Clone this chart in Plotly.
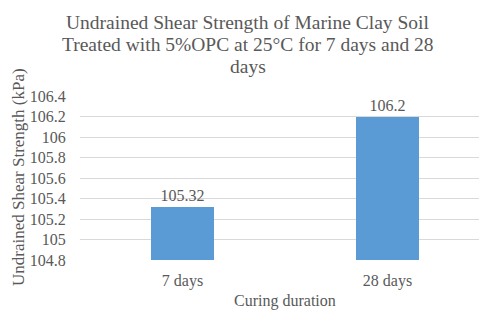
import plotly.graph_objects as go

categories = ["7 days", "28 days"]
strength = [105.32, 106.2]
y_ticks = [104.8, 105, 105.2, 105.4, 105.6, 105.8, 106, 106.2, 106.4]
y_tick_text = ["104.8", "105", "105.2", "105.4", "105.6", "105.8", "106", "106.2", "106.4"]
title_lines = [
    "Undrained Shear Strength of Marine Clay Soil",
    "Treated with 5%OPC at 25°C for 7 days and 28",
    "days",
]

FONT = "Liberation Serif"
GREY = "#595959"

W, H = 479, 311
L, R, T, B = 80, 0, 96, 51
pw = W - L - R
ph = H - T - B


def py(px):
    return 1 - (px - T) / ph


fig = go.Figure(go.Bar(
    x=categories, y=strength,
    marker=dict(color="#5B9BD5", line=dict(width=0)),
    width=0.31,
    text=[f"{v:g}" for v in strength],
    textposition="outside",
    textfont=dict(family=FONT, size=16, color=GREY),
    cliponaxis=False,
))

anns = []
for i, (line, cy) in enumerate(zip(title_lines, [22, 45, 66])):
    anns.append(dict(text=line, xref="paper", yref="paper",
                     x=(247.5 - L) / pw, y=py(cy), showarrow=False,
                     xanchor="center", yanchor="middle",
                     font=dict(family=FONT, size=19.5, color=GREY)))
anns += [
    dict(text="Undrained Shear Strength (kPa)", xref="paper", yref="paper",
         x=(18 - L) / pw, y=py(177), textangle=-90, showarrow=False,
         xanchor="center", yanchor="middle",
         font=dict(family=FONT, size=17, color=GREY)),
    dict(text="Curing duration", xref="paper", yref="paper",
         x=(285 - L) / pw, y=py(300.5), showarrow=False,
         xanchor="center", yanchor="middle",
         font=dict(family=FONT, size=16, color=GREY)),
]

fig.update_layout(
    width=W, height=H,
    margin=dict(l=L, r=R, t=T, b=B, pad=0),
    paper_bgcolor="white", plot_bgcolor="white",
    showlegend=False,
    font=dict(family=FONT, color=GREY),
    xaxis=dict(
        range=[-0.5, 1 + 91.5 / 205],
        showgrid=False, zeroline=False, showline=False,
        ticks="outside", ticklen=6, tickcolor="rgba(0,0,0,0)",
        tickfont=dict(family=FONT, size=16, color=GREY),
    ),
    yaxis=dict(
        range=[104.8, 106.4],
        tickvals=y_ticks, ticktext=y_tick_text,
        showgrid=True, gridcolor="#D9D9D9", gridwidth=1,
        zeroline=False, showline=False,
        ticks="outside", ticklen=10, tickcolor="rgba(0,0,0,0)",
        tickfont=dict(family=FONT, size=16, color=GREY),
    ),
    bargap=0.0,
    annotations=anns,
)

fig.write_html("out.html", config={"displayModeBar": False},
               post_script="document.body.style.margin='0';document.body.style.overflow='hidden';")
